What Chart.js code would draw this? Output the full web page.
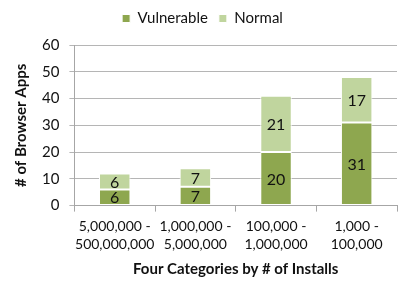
<!DOCTYPE html>
<html>
<head>
<meta charset="utf-8">
<script src="https://cdn.jsdelivr.net/npm/chart.js@4"></script>
<style>
  html, body { margin: 0; padding: 0; background: #fff; }
  #wrap { width: 406px; height: 289px; }
</style>
</head>
<body>
<div id="wrap"><canvas id="chart" width="406" height="289"></canvas></div>
<script>
// Daten
const categories = [
  ['5,000,000 -', '500,000,000'],
  ['1,000,000 -', '5,000,000'],
  ['100,000 -', '1,000,000'],
  ['1,000 -', '100,000']
];
const vulnerable = [6, 7, 20, 31];
const normal = [6, 7, 21, 17];
const yTicks = [0, 10, 20, 30, 40, 50, 60];

const fontFamily = 'Lato, "Open Sans", sans-serif';

// Werte in die Balken schreiben
const barLabels = {
  id: 'barLabels',
  afterDatasetsDraw(chart) {
    const ctx = chart.ctx;
    ctx.save();
    ctx.font = '16px ' + fontFamily;
    ctx.fillStyle = '#111';
    ctx.textAlign = 'center';
    ctx.textBaseline = 'middle';
    chart.data.datasets.forEach((ds, i) => {
      chart.getDatasetMeta(i).data.forEach((bar, j) => {
        const mid = (bar.y + bar.base) / 2;
        ctx.fillText(String(ds.data[j]), bar.x, mid + 1);
      });
    });
    ctx.restore();
  }
};

// etwas mehr Abstand unter der Legende
const legendGap = {
  id: 'legendGap',
  afterInit(chart) {
    const fit = chart.legend.fit;
    chart.legend.fit = function () {
      fit.call(this);
      this.height += 9;
    };
  }
};

const ctx = document.getElementById('chart').getContext('2d');
new Chart(ctx, {
  type: 'bar',
  data: {
    labels: categories,
    datasets: [{
      label: 'Vulnerable',
      data: vulnerable,
      backgroundColor: '#8ea74f',
      borderColor: '#ffffff',
      borderWidth: 1,
      borderSkipped: false
    }, {
      label: 'Normal',
      data: normal,
      backgroundColor: '#c0d59e',
      borderColor: '#ffffff',
      borderWidth: 1,
      borderSkipped: false
    }]
  },
  options: {
    responsive: false,
    animation: false,
    layout: { padding: { left: 8, right: 9, top: 0, bottom: 11 } },
    datasets: {
      bar: { categoryPercentage: 1, barPercentage: 0.39 }
    },
    plugins: {
      legend: {
        position: 'top',
        labels: {
          boxWidth: 8,
          boxHeight: 8,
          padding: 11,
          color: '#111',
          font: { family: fontFamily, size: 15 }
        }
      },
      tooltip: { enabled: false }
    },
    scales: {
      x: {
        stacked: true,
        grid: {
          drawOnChartArea: false,
          drawTicks: true,
          tickLength: 6,
          color: '#a6a6a6',
          offset: true
        },
        border: { color: '#a6a6a6' },
        ticks: {
          color: '#111',
          maxRotation: 0,
          autoSkip: false,
          padding: 6,
          font: { family: fontFamily, size: 14, lineHeight: 1.3 }
        },
        title: {
          display: true,
          text: 'Four Categories by # of Installs',
          color: '#111',
          font: { family: fontFamily, size: 15, weight: 'bold' },
          padding: { top: 0, bottom: 0 }
        }
      },
      y: {
        stacked: true,
        min: 0,
        max: 60,
        afterBuildTicks(axis) {
          axis.ticks = yTicks.map(v => ({ value: v }));
        },
        grid: {
          color: '#b5b5b5',
          tickLength: 5
        },
        border: { color: '#a6a6a6' },
        ticks: {
          color: '#111',
          padding: 10,
          font: { family: fontFamily, size: 15 }
        },
        title: {
          display: true,
          text: '# of Browser Apps',
          color: '#111',
          font: { family: fontFamily, size: 15, weight: 'bold' },
          padding: { bottom: 2 }
        }
      }
    }
  },
  plugins: [barLabels, legendGap]
});
</script>
</body>
</html>
